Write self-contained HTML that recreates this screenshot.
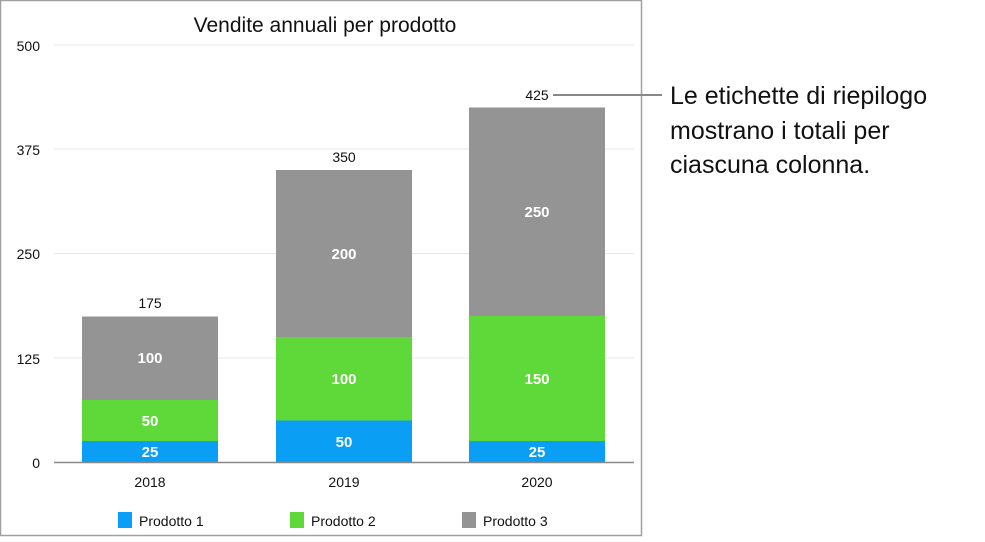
<!DOCTYPE html>
<html><head><meta charset="utf-8"><style>
body{margin:0;background:#fff;width:985px;height:537px;overflow:hidden;font-family:"Liberation Sans",sans-serif}
</style></head><body>
<svg width="985" height="537" xmlns="http://www.w3.org/2000/svg" font-family="Liberation Sans, sans-serif">
<rect x="0.5" y="0.5" width="641" height="535" fill="#fff" stroke="#a0a0a0" stroke-width="1.5"/>
<text x="325" y="32" font-size="21" text-anchor="middle" fill="#111">Vendite annuali per prodotto</text>
<g stroke="#e8e8e8" stroke-width="1">
<line x1="54" y1="45" x2="634" y2="45"/><line x1="54" y1="149" x2="634" y2="149"/>
<line x1="54" y1="253.5" x2="634" y2="253.5"/><line x1="54" y1="358" x2="634" y2="358"/>
</g>
<g font-size="14" fill="#111" text-anchor="end">
<text x="40" y="51">500</text><text x="40" y="155">375</text><text x="40" y="259">250</text><text x="40" y="364">125</text><text x="40" y="468">0</text>
</g>
<!-- bars -->
<rect x="82" y="441" width="136" height="21" fill="#0a9ef5"/>
<rect x="82" y="400" width="136" height="41" fill="#5fd83a"/>
<rect x="82" y="316.5" width="136" height="83.5" fill="#949494"/>
<rect x="276" y="420.5" width="136" height="41.5" fill="#0a9ef5"/>
<rect x="276" y="337" width="136" height="83.5" fill="#5fd83a"/>
<rect x="276" y="170" width="136" height="167" fill="#949494"/>
<rect x="469" y="441" width="136" height="21" fill="#0a9ef5"/>
<rect x="469" y="316" width="136" height="125" fill="#5fd83a"/>
<rect x="469" y="107.5" width="136" height="208.5" fill="#949494"/>
<line x1="54" y1="462.5" x2="634" y2="462.5" stroke="#888" stroke-width="1.5"/>
<g font-size="15" fill="#fff" text-anchor="middle" font-weight="bold">
<text x="150" y="457">25</text><text x="150" y="426">50</text><text x="150" y="363">100</text>
<text x="344" y="447">50</text><text x="344" y="384">100</text><text x="344" y="259">200</text>
<text x="537" y="457">25</text><text x="537" y="384">150</text><text x="537" y="217">250</text>
</g>
<g font-size="14" fill="#111" text-anchor="middle">
<text x="150" y="308">175</text><text x="344" y="162">350</text><text x="537" y="100">425</text>
<text x="150" y="487">2018</text><text x="344" y="487">2019</text><text x="537" y="487">2020</text>
</g>
<line x1="553" y1="95" x2="662" y2="95" stroke="#888" stroke-width="2"/>
<g font-size="14" fill="#111">
<rect x="118" y="512" width="14" height="16" fill="#0a9ef5"/><text x="139" y="526">Prodotto 1</text>
<rect x="290" y="512" width="14" height="16" fill="#5fd83a"/><text x="311" y="526">Prodotto 2</text>
<rect x="462" y="512" width="14" height="16" fill="#949494"/><text x="483" y="526">Prodotto 3</text>
</g>
<g font-size="25" fill="#111">
<text x="670" y="104">Le etichette di riepilogo</text>
<text x="670" y="139">mostrano i totali per</text>
<text x="670" y="173">ciascuna colonna.</text>
</g>
</svg>
</body></html>
